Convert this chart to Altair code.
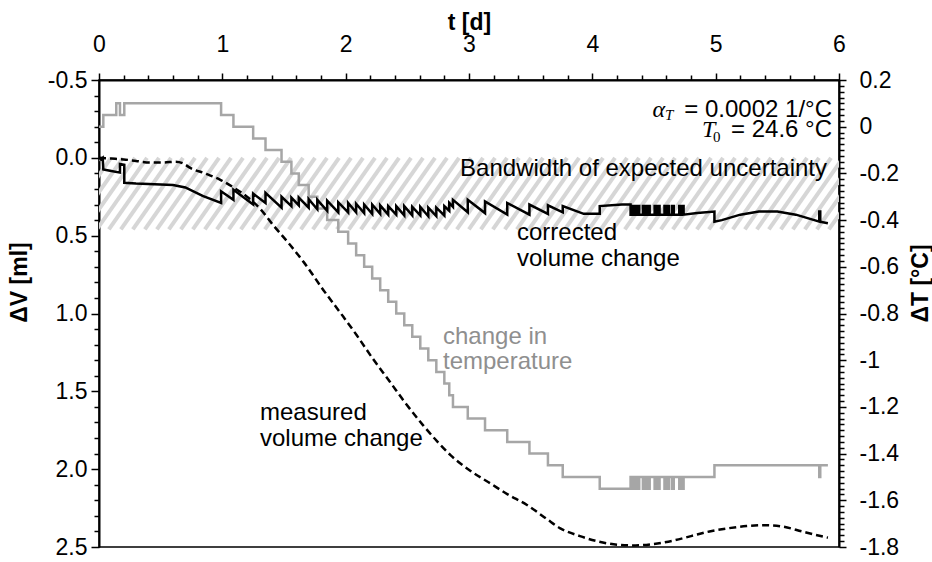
import altair as alt
import numpy as np
import pandas as pd

SANS = "Liberation Sans"
SERIF = "Liberation Serif"
TICK_FS = 23
NOTE_FS = 24

# ---- measured volume change dV [ml] over time t [d] ----
meas_t = [0.00, 0.10, 0.20, 0.30, 0.41, 0.52, 0.62, 0.68, 0.74, 0.86,
          0.98, 1.09, 1.20, 1.31, 1.41, 1.55, 1.66, 1.82, 1.98, 2.09,
          2.22, 2.36, 2.47, 2.63, 2.74, 2.85, 3.01, 3.17, 3.31, 3.47,
          3.63, 3.74, 3.90, 4.05, 4.20, 4.35, 4.50, 4.65, 4.80, 4.95,
          5.10, 5.25, 5.40, 5.55, 5.70, 5.80, 5.91]
meas_v = [0.00, 0.005, 0.01, 0.02, 0.03, 0.03, 0.025, 0.035, 0.065, 0.10,
          0.14, 0.19, 0.25, 0.33, 0.43, 0.56, 0.67, 0.85, 1.02, 1.14,
          1.29, 1.44, 1.56, 1.72, 1.82, 1.91, 2.01, 2.09, 2.16, 2.23,
          2.32, 2.38, 2.43, 2.465, 2.485, 2.49, 2.48, 2.46, 2.43, 2.40,
          2.38, 2.365, 2.36, 2.37, 2.40, 2.42, 2.44]

# ---- temperature-corrected volume change dV [ml] ----
corr_t = [0.000, 0.015, 0.030, 0.035, 0.100, 0.170, 0.170, 0.205, 0.205, 0.300,
          0.450, 0.600, 0.700, 0.840, 0.990, 0.990, 1.090, 1.090, 1.250, 1.250,
          1.350, 1.350, 1.480, 1.480, 1.560, 1.560, 1.620, 1.620, 1.700, 1.700,
          1.770, 1.770, 1.850, 1.850, 1.940, 1.940, 2.020, 2.020, 2.085, 2.085,
          2.150, 2.150, 2.215, 2.215, 2.280, 2.280, 2.345, 2.345, 2.410, 2.410,
          2.475, 2.475, 2.540, 2.540, 2.605, 2.605, 2.670, 2.670, 2.735, 2.735,
          2.800, 2.800, 2.840, 2.840, 2.870, 2.870, 2.990, 2.990, 3.130, 3.130,
          3.310, 3.310, 3.490, 3.490, 3.640, 3.640, 3.760, 3.760, 3.930, 4.060,
          4.060, 4.240, 4.310, 4.310, 4.320, 4.320, 4.328, 4.328, 4.345, 4.345,
          4.355, 4.355, 4.370, 4.370, 4.380, 4.380, 4.410, 4.410, 4.420, 4.420,
          4.430, 4.430, 4.440, 4.440, 4.455, 4.455, 4.465, 4.465, 4.505, 4.505,
          4.515, 4.515, 4.530, 4.530, 4.545, 4.545, 4.585, 4.585, 4.595, 4.595,
          4.610, 4.610, 4.620, 4.620, 4.645, 4.645, 4.660, 4.660, 4.705, 4.705,
          4.715, 4.715, 4.730, 4.730, 4.740, 4.740, 4.850, 4.990, 4.990, 5.050,
          5.200, 5.350, 5.500, 5.650, 5.800, 5.840, 5.840, 5.848, 5.848, 5.910]
corr_v = [0.000, 0.010, 0.000, 0.075, 0.085, 0.095, 0.040, 0.045, 0.160, 0.165,
          0.170, 0.175, 0.190, 0.245, 0.290, 0.215, 0.270, 0.205, 0.300, 0.230,
          0.290, 0.225, 0.320, 0.250, 0.310, 0.255, 0.305, 0.255, 0.320, 0.265,
          0.330, 0.270, 0.340, 0.275, 0.350, 0.285, 0.350, 0.290, 0.350, 0.295,
          0.355, 0.300, 0.360, 0.300, 0.360, 0.305, 0.365, 0.310, 0.365, 0.310,
          0.370, 0.310, 0.370, 0.315, 0.370, 0.315, 0.375, 0.320, 0.375, 0.320,
          0.370, 0.310, 0.340, 0.290, 0.315, 0.270, 0.350, 0.270, 0.355, 0.280,
          0.365, 0.290, 0.365, 0.300, 0.360, 0.305, 0.350, 0.310, 0.360, 0.360,
          0.310, 0.300, 0.300, 0.365, 0.365, 0.310, 0.310, 0.365, 0.365, 0.310,
          0.310, 0.365, 0.365, 0.310, 0.310, 0.365, 0.365, 0.310, 0.310, 0.365,
          0.365, 0.310, 0.310, 0.365, 0.365, 0.310, 0.310, 0.365, 0.365, 0.310,
          0.310, 0.365, 0.365, 0.310, 0.310, 0.365, 0.365, 0.310, 0.310, 0.365,
          0.365, 0.310, 0.310, 0.365, 0.365, 0.310, 0.310, 0.365, 0.365, 0.310,
          0.310, 0.365, 0.365, 0.310, 0.310, 0.365, 0.355, 0.345, 0.410, 0.400,
          0.365, 0.345, 0.345, 0.365, 0.400, 0.410, 0.345, 0.345, 0.410, 0.420]

# ---- temperature change dT [°C], logged in 0.05 °C steps (value holds until next entry) ----
temp_t = [0.000, 0.035, 0.140, 0.170, 0.205, 0.990, 1.090, 1.250, 1.350, 1.480,
          1.560, 1.620, 1.700, 1.770, 1.850, 1.940, 2.020, 2.085, 2.150, 2.215,
          2.280, 2.345, 2.410, 2.475, 2.540, 2.605, 2.670, 2.735, 2.800, 2.840,
          2.870, 2.990, 3.130, 3.310, 3.490, 3.640, 3.760, 4.060, 4.310, 4.320,
          4.328, 4.345, 4.355, 4.370, 4.380, 4.410, 4.420, 4.430, 4.440, 4.455,
          4.465, 4.505, 4.515, 4.530, 4.545, 4.585, 4.595, 4.610, 4.620, 4.645,
          4.660, 4.705, 4.715, 4.730, 4.740, 4.990, 5.840, 5.848, 5.910]
temp_v = [0.00, 0.05, 0.10, 0.05, 0.10, 0.05, 0.00, -0.05, -0.10, -0.15,
          -0.20, -0.25, -0.30, -0.35, -0.40, -0.45, -0.50, -0.55, -0.60, -0.65,
          -0.70, -0.75, -0.80, -0.85, -0.90, -0.95, -1.00, -1.05, -1.10, -1.15,
          -1.20, -1.25, -1.30, -1.35, -1.40, -1.45, -1.50, -1.55, -1.50, -1.55,
          -1.50, -1.55, -1.50, -1.55, -1.50, -1.55, -1.50, -1.55, -1.50, -1.55,
          -1.50, -1.55, -1.50, -1.55, -1.50, -1.55, -1.50, -1.55, -1.50, -1.55,
          -1.50, -1.55, -1.50, -1.55, -1.50, -1.45, -1.50, -1.45, -1.45]

# band of expected uncertainty on dV [ml]
band_lo, band_hi = 0.0, 0.46

# ---- geometry ----
W, H = 740, 467
T_DOMAIN = [0, 6]
V_DOMAIN = [-0.5, 2.5]
DT_DOMAIN = [-1.8, 0.2]

x_scale = alt.Scale(domain=T_DOMAIN, nice=False, zero=False)
v_scale = alt.Scale(domain=V_DOMAIN, reverse=True, nice=False, zero=False)
dt_scale = alt.Scale(domain=DT_DOMAIN, nice=False, zero=False)


def is_major(step):
    return f"abs(datum.value / {step} - round(datum.value / {step})) < 1e-6"


def tick_len(step, major, minor):
    return {"condition": {"test": is_major(step), "value": major}, "value": minor}


def major_labels(step, fmt):
    signed = f"(datum.value < 0 ? '-' : '') + format(abs(datum.value), '{fmt}')"
    return f"{is_major(step)} ? {signed} : ''"


axis_style = dict(
    grid=False, domainColor="black", domainWidth=2, tickColor="black", tickWidth=1.5,
    labelFont=SANS, labelFontSize=TICK_FS, labelColor="black", labelOverlap=False,
    labelFlush=False, titleFont=SANS, titleFontSize=TICK_FS, titleFontWeight="bold",
    titleColor="black",
)

x_vals = [round(0.2 * i, 3) for i in range(31)]
v_vals = [round(-0.5 + 0.1 * i, 3) for i in range(31)]
dt_vals = [round(-1.8 + 0.025 * i, 4) for i in range(81)]

x_axis = alt.Axis(orient="top", values=x_vals, labelExpr=major_labels(1, "d"),
                  tickSize=tick_len(1, 7, 5), labelPadding=17, title="t [d]",
                  titleX=W / 2, titleY=-58, titleAngle=0, titleAlign="center",
                  titleBaseline="middle", **axis_style)
v_axis = alt.Axis(orient="left", values=v_vals, labelExpr=major_labels(0.5, ".1f"),
                  tickSize=tick_len(0.5, 8, 5), labelPadding=4, title="ΔV [ml]",
                  titleX=-80, titleY=202, titleAngle=270, titleAlign="center",
                  titleBaseline="middle", **axis_style)
dt_axis = alt.Axis(orient="right", values=dt_vals, labelExpr=major_labels(0.2, "~g"),
                   tickSize=tick_len(0.2, 7, 5), labelPadding=13, title="ΔT [°C]",
                   titleX=81, titleY=203, titleAngle=270, titleAlign="center",
                   titleBaseline="middle", **axis_style)

# ---- hatched uncertainty band: diagonal stripes clipped to the plot ----
px_day = W / (T_DOMAIN[1] - T_DOMAIN[0])
px_ml = H / (V_DOMAIN[1] - V_DOMAIN[0])
band_px = (band_hi - band_lo) * px_ml
stripe_gap_px, stripe_angle = 12, 55
shift = band_px / np.tan(np.radians(stripe_angle)) / px_day
starts = np.arange(T_DOMAIN[0] - shift, T_DOMAIN[1] + stripe_gap_px / px_day,
                   stripe_gap_px / px_day)
stripes = pd.DataFrame({"t0": starts, "t1": starts + shift,
                        "v0": band_hi, "v1": band_lo})

hatch = alt.Chart(stripes).mark_rule(
    color="#d6d6d6", strokeWidth=4, strokeCap="butt", clip=True
).encode(
    x=alt.X("t0:Q", scale=x_scale, axis=x_axis), x2="t1:Q",
    y=alt.Y("v0:Q", scale=v_scale, axis=None), y2="v1:Q",
)

temp = pd.DataFrame({"t": temp_t, "dT": temp_v})
temp_line = alt.Chart(temp).mark_line(
    color="#a6a6a6", strokeWidth=2.5, interpolate="step-after"
).encode(
    x=alt.X("t:Q", scale=x_scale, axis=x_axis),
    y=alt.Y("dT:Q", scale=dt_scale, axis=dt_axis),
)

meas = pd.DataFrame({"t": meas_t, "v": meas_v})
meas_line = alt.Chart(meas).mark_line(
    color="black", strokeWidth=2.5, strokeDash=[7, 4], interpolate="monotone"
).encode(
    x=alt.X("t:Q", scale=x_scale, axis=x_axis),
    y=alt.Y("v:Q", scale=v_scale, axis=v_axis),
)

corr = pd.DataFrame({"t": corr_t, "v": corr_v, "i": range(len(corr_t))})
corr_line = alt.Chart(corr).mark_line(color="black", strokeWidth=2.5).encode(
    x=alt.X("t:Q", scale=x_scale, axis=x_axis),
    y=alt.Y("v:Q", scale=v_scale, axis=v_axis),
    order="i:Q",
)

one = pd.DataFrame({"k": [0]})


def note(text, x, y, **kw):
    props = dict(align="left", baseline="middle", font=SANS, fontSize=NOTE_FS,
                 color="black")
    props.update(kw)
    return alt.Chart(one).mark_text(text=text, **props).encode(
        x=alt.value(x), y=alt.value(y))


notes = [
    note("= 0.0002 1/°C", 733, 37, align="right", baseline="alphabetic"),
    note("α", 566, 37, align="right", baseline="alphabetic", font=SERIF,
         fontStyle="italic"),
    note("T", 566, 40, baseline="alphabetic", font=SERIF, fontStyle="italic",
         fontSize=15),
    note("= 24.6 °C", 733, 57, align="right", baseline="alphabetic"),
    note("T", 603, 57, baseline="alphabetic", font=SERIF, fontStyle="italic"),
    note("0", 614, 62, baseline="alphabetic", font=SERIF, fontSize=15),
    note("Bandwidth of expected uncertainty", 728, 89, align="right"),
    note("corrected", 418, 153),
    note("volume change", 418, 179),
    note("change in", 344, 257, color="#8f8f8f"),
    note("temperature", 344, 282, color="#8f8f8f"),
    note("measured", 161, 333),
    note("volume change", 161, 359),
]

volume_layer = alt.layer(meas_line, corr_line, *notes)

chart = alt.layer(hatch, temp_line, volume_layer).resolve_scale(
    y="independent"
).properties(
    width=W, height=H,
    padding={"left": 99, "top": 80, "right": 93, "bottom": 15},
    autosize=alt.AutoSizeParams(type="none"),
    background="white",
).configure_view(stroke="black", strokeWidth=1.5)

chart.save("out.html", embed_options={"renderer": "svg", "actions": False})
